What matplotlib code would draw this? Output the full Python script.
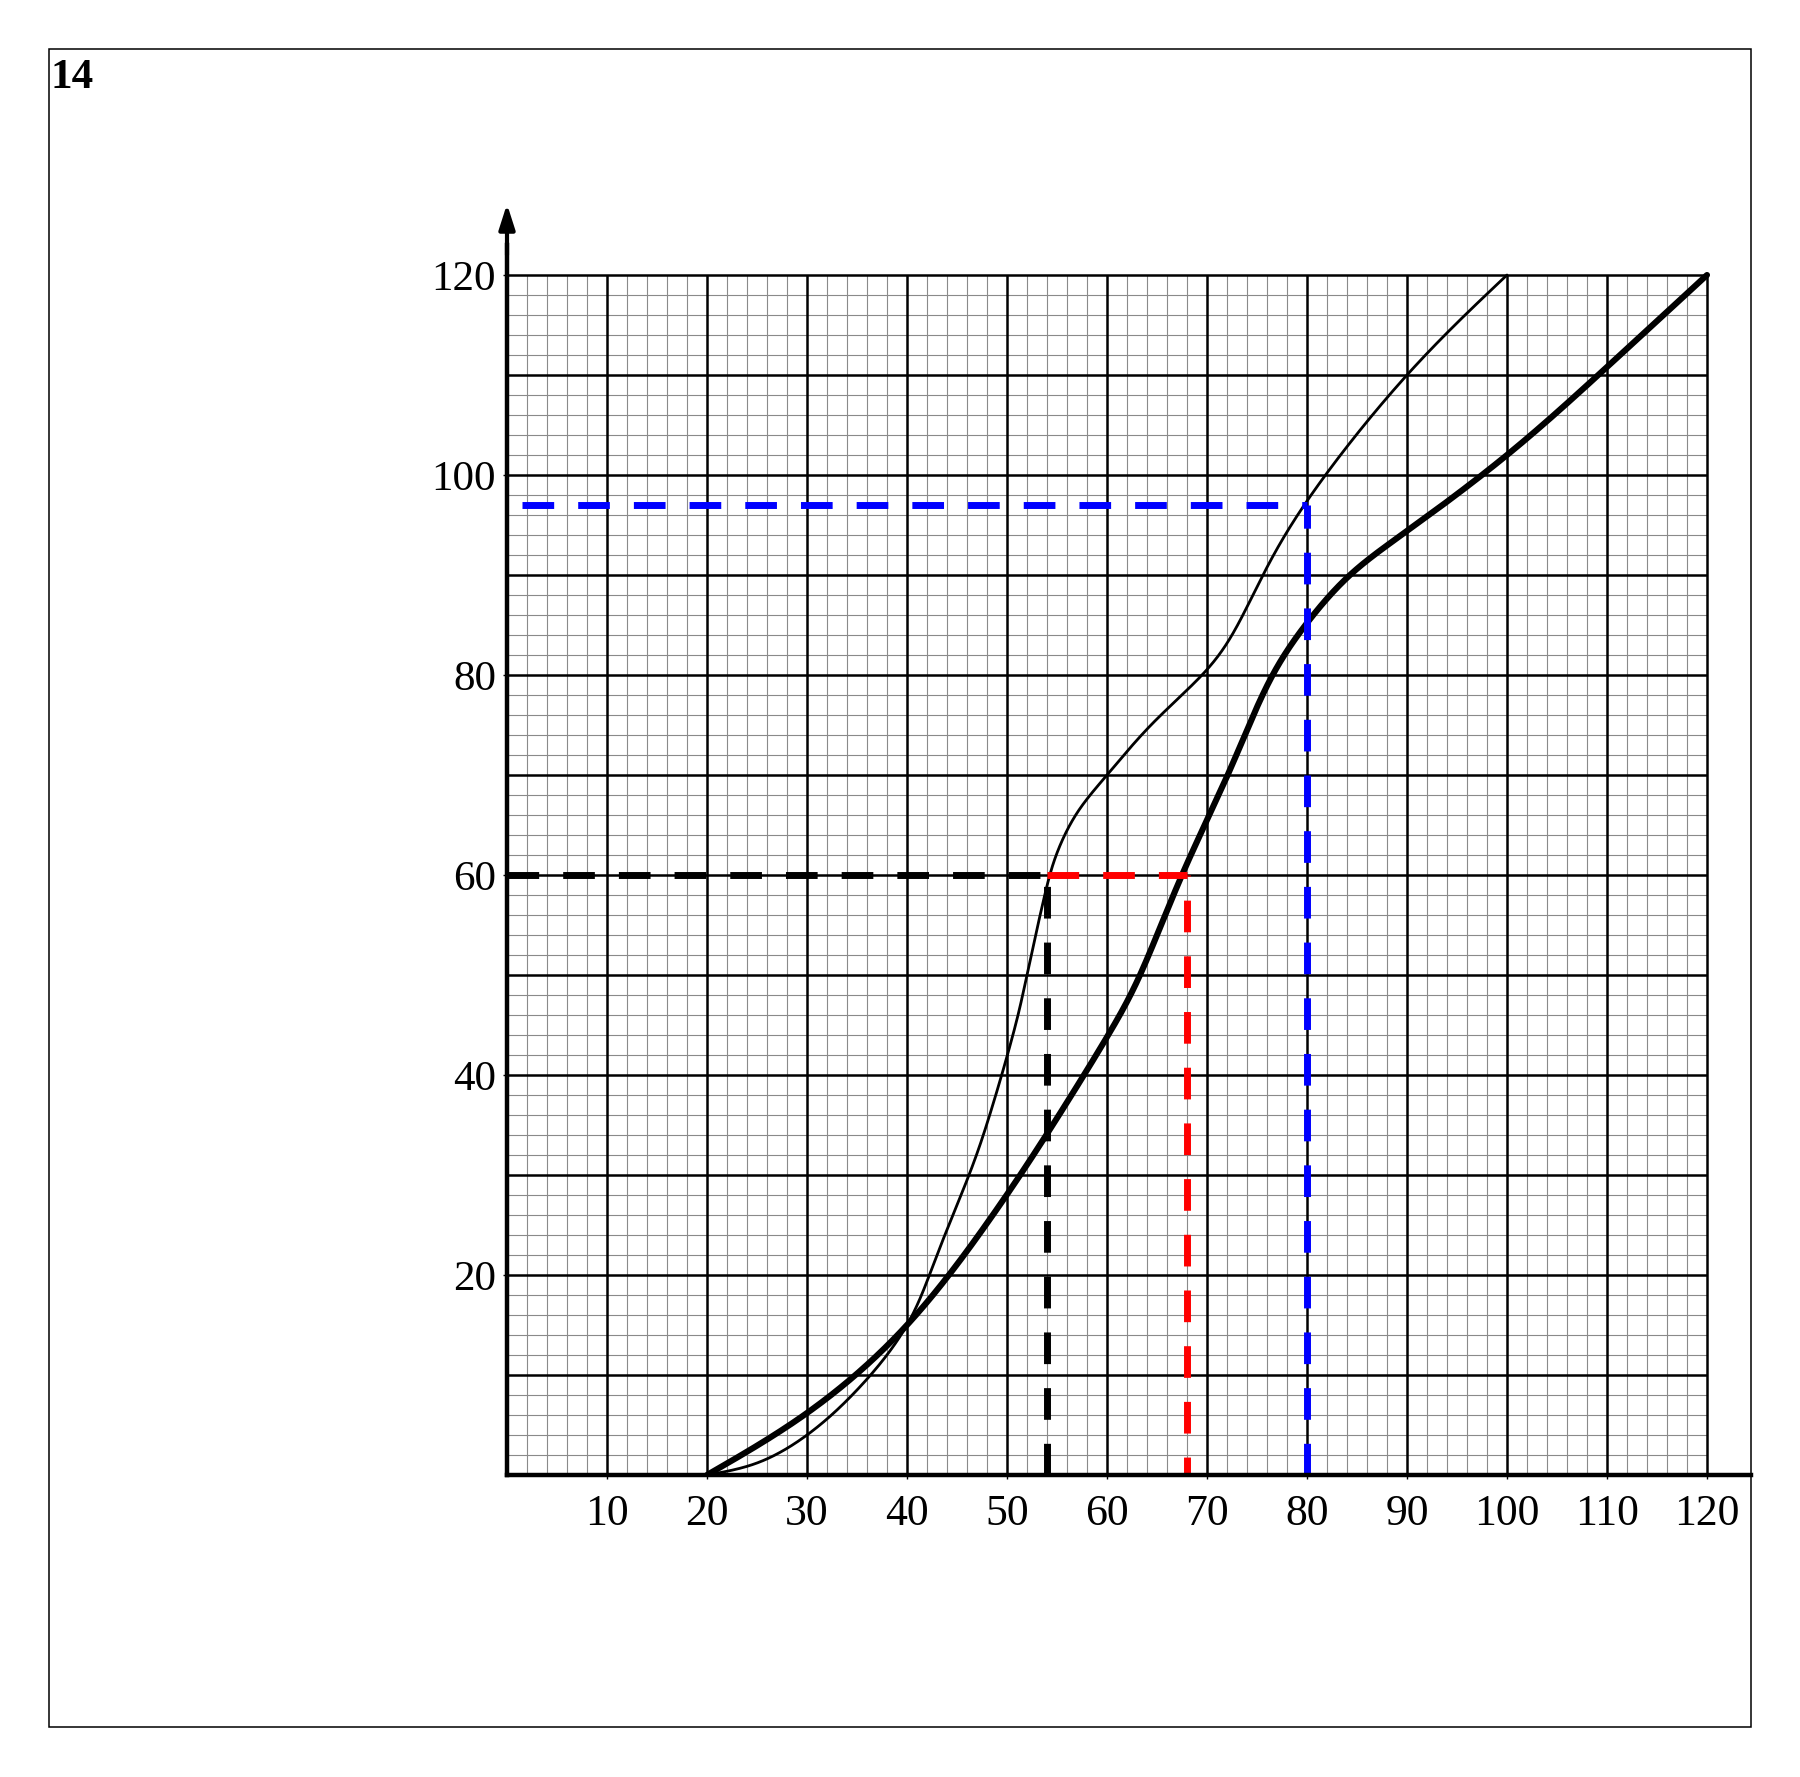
import numpy as np
import matplotlib
matplotlib.use("Agg")
import matplotlib.pyplot as plt
from matplotlib.patches import Rectangle

plt.rcParams['font.family'] = ['Liberation Serif', 'DejaVu Serif']
plt.rcParams['lines.scale_dashes'] = False

# ---------------- data ----------------
x_ticks = [10, 20, 30, 40, 50, 60, 70, 80, 90, 100, 110, 120]
y_ticks = [20, 40, 60, 80, 100, 120]

thin_x = [20, 25, 30, 35, 40, 43, 46.2, 48.3, 50.8, 52, 53.8, 55, 57, 60, 64.4, 69.5,
          72.5, 75.6, 80, 90, 100]
thin_y = [0, 1.2, 4, 8.5, 15, 22, 30, 36.1, 44.8, 50, 58.1, 62.2, 66.2, 70, 75, 80,
          84, 90, 97.4, 110, 120]

thick_x = [20, 30, 40, 48.3, 53.8, 60, 63.3, 67.5, 72.2, 76.3, 80, 84.3, 90, 100, 110, 120]
thick_y = [0, 6.2, 15, 25.6, 33.8, 43.8, 50, 60, 70.3, 79.5, 85.2, 90, 94.4, 102, 110.8, 120]

black_point = (54, 60)
red_point = (68, 60)
blue_point = (80, 97)
blue_start_x = 1.5

# ---------------- figure ----------------
W, H = 1800, 1777
fig = plt.figure(figsize=(W / 100, H / 100), dpi=100)

# outer frame
fr_l, fr_t, fr_r, fr_b = 49, 49, 1751, 1727
fig.patches.append(Rectangle((fr_l / W, 1 - fr_b / H), (fr_r - fr_l) / W, (fr_b - fr_t) / H,
                             transform=fig.transFigure, fill=False, lw=1.1,
                             edgecolor='black', zorder=0))
fig.text(51 / W, 1 - 88 / H, '14', fontsize=31, fontweight='bold',
         ha='left', va='baseline')

x0_px, y0_px, ppu = 507, 1475, 10.0
xmax = (fr_r - x0_px) / ppu
ymax = 128
ax = fig.add_axes([x0_px / W, 1 - y0_px / H, xmax * ppu / W, ymax * ppu / H])
ax.set_xlim(0, xmax)
ax.set_ylim(0, ymax)
ax.patch.set_alpha(0)

# grid
minor = np.arange(2, 120, 2)
minor = minor[minor % 10 != 0]
major = np.arange(10, 121, 10)
ax.vlines(minor, 0, 120, colors='#8a8a8a', lw=0.8, zorder=1)
ax.hlines(minor, 0, 120, colors='#8a8a8a', lw=0.8, zorder=1)
ax.vlines(major, 0, 120, colors='black', lw=1.8, zorder=2)
ax.hlines(major, 0, 120, colors='black', lw=1.8, zorder=2)

# axes lines
for s in ['top', 'right']:
    ax.spines[s].set_visible(False)
ax.spines['bottom'].set_linewidth(3.2)
ax.spines['left'].set_linewidth(3.2)
ax.spines['left'].set_bounds(0, 123)
ax.spines['bottom'].set_zorder(6)
ax.spines['left'].set_zorder(6)
ax.annotate('', xy=(0, 127.1), xytext=(0, 122),
            arrowprops=dict(arrowstyle='-|>,head_length=1.5,head_width=0.48',
                            lw=3, color='black', shrinkA=0, shrinkB=0),
            annotation_clip=False, zorder=7)

ax.set_xticks(x_ticks)
ax.set_xticklabels([str(v) for v in x_ticks])
ax.set_yticks(y_ticks)
ax.set_yticklabels([str(v) for v in y_ticks])
ax.tick_params(axis='x', length=3, width=1, pad=11, labelsize=31.5)
ax.tick_params(axis='y', length=3, width=1, pad=5, labelsize=31)


def natural_spline_1d(t, v, tq):
    n = len(t)
    h = np.diff(t)
    A = np.zeros((n, n))
    b = np.zeros(n)
    A[0, 0] = A[-1, -1] = 1.0
    for i in range(1, n - 1):
        A[i, i - 1] = h[i - 1]
        A[i, i] = 2 * (h[i - 1] + h[i])
        A[i, i + 1] = h[i]
        b[i] = 6 * ((v[i + 1] - v[i]) / h[i] - (v[i] - v[i - 1]) / h[i - 1])
    M = np.linalg.solve(A, b)
    idx = np.clip(np.searchsorted(t, tq) - 1, 0, n - 2)
    t0, t1 = t[idx], t[idx + 1]
    hh = t1 - t0
    a = (t1 - tq) / hh
    c = (tq - t0) / hh
    return (a * v[idx] + c * v[idx + 1]
            + ((a ** 3 - a) * M[idx] + (c ** 3 - c) * M[idx + 1]) * hh ** 2 / 6.0)


def smooth_curve(xs, ys, num=3000):
    """Parametric natural cubic spline (chord-length) through the read points."""
    xs = np.asarray(xs, float)
    ys = np.asarray(ys, float)
    d = np.hypot(np.diff(xs), np.diff(ys))
    t = np.concatenate([[0], np.cumsum(np.sqrt(d))])
    tq = np.linspace(0, t[-1], num)
    return natural_spline_1d(t, xs, tq), natural_spline_1d(t, ys, tq)


tx, ty = smooth_curve(thin_x, thin_y)
ax.plot(tx, ty, color='black', lw=2.0, zorder=4, solid_capstyle='round')
kx, ky = smooth_curve(thick_x, thick_y)
ax.plot(kx, ky, color='black', lw=4.4, zorder=4, solid_capstyle='round')

# dashed guide lines
dash = (22.8, 17.3)
lw_d = 5
ax.plot([0, black_point[0]], [black_point[1], black_point[1]], color='black',
        lw=lw_d, linestyle=(0, dash), zorder=5)
ax.plot([black_point[0], black_point[0]], [0, black_point[1]], color='black',
        lw=lw_d, linestyle=(0, dash), zorder=5)
ax.plot([black_point[0], red_point[0]], [red_point[1], red_point[1]], color='#ff0000',
        lw=lw_d, linestyle=(0, dash), zorder=5)
ax.plot([red_point[0], red_point[0]], [0, red_point[1]], color='#ff0000',
        lw=lw_d, linestyle=(9.9, dash), zorder=5)
ax.plot([blue_start_x, blue_point[0]], [blue_point[1], blue_point[1]], color='#0000ff',
        lw=lw_d, linestyle=(0, dash), zorder=5)
ax.plot([blue_point[0], blue_point[0]], [0, blue_point[1]], color='#0000ff',
        lw=lw_d, linestyle=(0, dash), zorder=5)

fig.savefig('out.png', dpi=100)
